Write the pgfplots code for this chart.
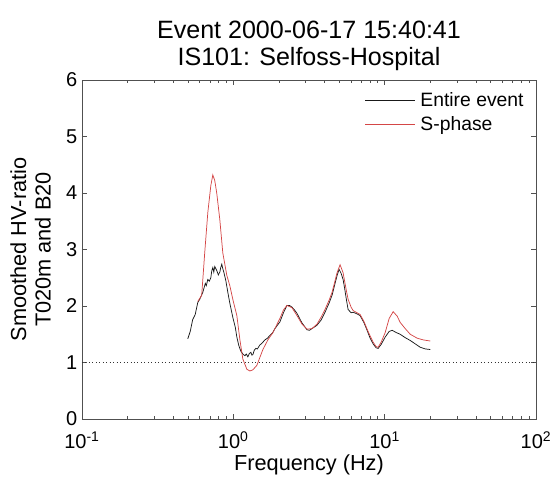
\documentclass[border=0pt]{standalone}
\usepackage{pgfplots}
\pgfplotsset{compat=1.18}
\usepackage{fontspec}
\setmainfont{Liberation Sans}
\definecolor{sred}{RGB}{212,70,70}
\definecolor{axgray}{RGB}{80,80,80}
\begin{document}
\begin{tikzpicture}
\useasboundingbox (-61.5pt,-43.5pt) rectangle (352.5pt,314.25pt);
\begin{axis}[
  at={(0,0)}, anchor=south west,
  scale only axis, width=340.5pt, height=254.25pt,
  xmode=log, xmin=0.1, xmax=100, ymin=0, ymax=6,
  ytick={0,1,2,3,4,5,6},
  xtick={0.1,1,10,100},
  xticklabels={10\textsuperscript{-1},10\textsuperscript{0},10\textsuperscript{1},10\textsuperscript{2}},
  tick label style={font=\fontsize{15}{15}\selectfont, inner sep=1pt},
  yticklabel style={/pgf/number format/assume math mode=true, xshift=-2.3pt},
  xticklabel style={yshift=-8.5pt},
  axis line style={axgray, line width=0.5pt},
  every tick/.style={axgray, line width=0.4pt},
  major tick length=4pt, minor tick length=2.5pt,
  tick align=inside,
  xlabel={Frequency (Hz)},
  xlabel style={font=\fontsize{16.3}{19}\selectfont, at={(axis description cs:0.5,0)}, anchor=north, yshift=-23.5pt},
  ylabel={Smoothed HV-ratio\\T020m and B20},
  ylabel style={font=\fontsize{16.3}{18.5}\selectfont, align=center, at={(axis description cs:-0.058,0.5)}, anchor=south},
  title={Event 2000-06-17 15:40:41\\IS101: Selfoss-Hospital},
  title style={font=\fontsize{18.8}{20.5}\selectfont, align=center, at={(axis description cs:0.5,1)}, anchor=south, yshift=-2.5pt},
  legend style={at={(axis description cs:0.985,0.98)}, anchor=north east, draw=none, fill=none, font=\fontsize{14.5}{16.5}\selectfont, row sep=2pt, column sep=2pt, inner sep=2pt},
  legend cell align=left,
  legend image code/.code={\draw[#1] (0cm,0cm) -- (1.3cm,0cm);},
]
\addplot[black!90, line width=0.55pt] coordinates {
(0.500,1.42) (0.519,1.55) (0.539,1.76) (0.560,1.85) (0.582,2.06) (0.600,2.12) (0.628,2.24) (0.653,2.40) (0.663,2.36) (0.678,2.47) (0.694,2.44) (0.710,2.50) (0.720,2.62) (0.732,2.68) (0.743,2.60) (0.754,2.70) (0.777,2.63) (0.796,2.55) (0.814,2.60) (0.826,2.68) (0.839,2.74) (0.852,2.66) (0.865,2.60) (0.892,2.45) (0.920,2.24) (0.948,2.05) (0.992,1.80) (1.031,1.62) (1.055,1.45) (1.087,1.30) (1.121,1.20) (1.156,1.15) (1.192,1.12) (1.219,1.15) (1.247,1.10) (1.276,1.16) (1.306,1.18) (1.326,1.13) (1.346,1.14) (1.377,1.22) (1.409,1.25) (1.442,1.24) (1.497,1.31) (1.544,1.34) (1.617,1.40) (1.680,1.43) (1.745,1.48) (1.813,1.52) (1.883,1.60) (1.956,1.66) (2.032,1.72) (2.144,1.88) (2.261,2.01) (2.349,2.01) (2.440,1.98) (2.535,1.93) (2.634,1.87) (2.842,1.70) (3.067,1.58) (3.186,1.57) (3.311,1.60) (3.573,1.66) (3.798,1.75) (4.036,1.89) (4.290,2.05) (4.491,2.19) (4.702,2.40) (4.848,2.54) (4.998,2.65) (5.152,2.58) (5.311,2.47) (5.434,2.32) (5.559,2.15) (5.731,1.94) (6.000,1.88) (6.186,1.89) (6.575,1.86) (6.882,1.83) (7.314,1.70) (7.656,1.57) (8.017,1.43) (8.391,1.33) (8.785,1.26) (9.058,1.25) (9.481,1.32) (10.08,1.45) (10.71,1.55) (11.21,1.57) (11.92,1.53) (12.66,1.50) (13.67,1.44) (14.75,1.39) (15.92,1.33) (17.18,1.27) (18.54,1.24) (20.01,1.23)
};
\addlegendentry{Entire event}
\addplot[sred, line width=0.55pt] coordinates {
(0.582,2.08) (0.618,2.19) (0.647,2.94) (0.678,3.65) (0.710,4.13) (0.732,4.32) (0.754,4.22) (0.777,4.00) (0.814,3.53) (0.852,2.94) (0.906,2.54) (0.948,2.36) (0.992,2.12) (1.055,1.83) (1.104,1.41) (1.156,1.06) (1.229,0.88) (1.286,0.85) (1.346,0.87) (1.431,0.95) (1.568,1.23) (1.692,1.40) (1.826,1.53) (2.032,1.78) (2.144,1.93) (2.261,2.01) (2.440,1.97) (2.634,1.83) (2.842,1.68) (3.067,1.59) (3.311,1.60) (3.573,1.68) (3.798,1.80) (4.036,1.94) (4.290,2.10) (4.491,2.24) (4.702,2.45) (4.848,2.59) (5.074,2.73) (5.311,2.59) (5.559,2.30) (5.731,2.12) (6.000,1.98) (6.186,1.92) (6.575,1.88) (6.882,1.85) (7.314,1.72) (7.656,1.59) (8.017,1.47) (8.391,1.36) (8.785,1.28) (9.058,1.27) (9.481,1.36) (10.08,1.53) (10.71,1.78) (11.38,1.90) (12.10,1.82) (12.66,1.71) (13.67,1.60) (14.75,1.50) (16.41,1.43) (17.99,1.40) (20.01,1.38)
};
\addlegendentry{S-phase}
\addplot[black!80, dotted, line width=0.6pt, forget plot] coordinates {(0.1,1) (100,1)};
\end{axis}
\end{tikzpicture}
\end{document}
